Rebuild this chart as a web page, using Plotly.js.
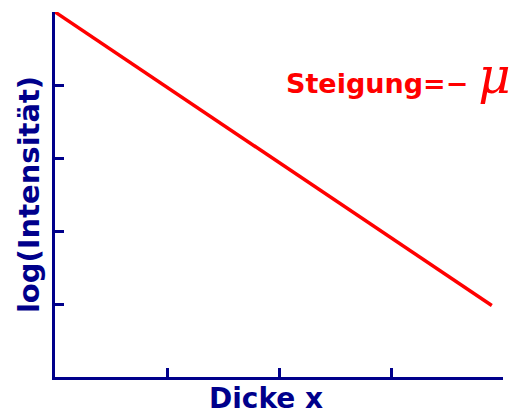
<!DOCTYPE html>
<html>
<head>
<meta charset="utf-8">
<script src="https://cdn.plot.ly/plotly-3.0.1.min.js"></script>
<style>
    html, body { margin: 0; padding: 0; background: #fff; }
    #chart { width: 515px; height: 416px; }
</style>
</head>
<body>
<div id="chart"></div>
<script>
// values
const thickness = [0, 3.9]
const logIntensity = [5, 0.98]
const xTicks = [0, 1, 2, 3, 4]
const yTicks = [0, 1, 2, 3, 4, 5]

const navy = "#00008b"
const red = "#ff0000"
const font = "DejaVu Sans, sans-serif"

let lineTrace = {
    type: "scatter",
    mode: "lines",
    x: thickness,
    y: logIntensity,
    line: {color: red, width: 3.5},
    hoverinfo: "skip"
}

function axis(ticks, range, title, standoff){
    return {
        range: range,
        tickmode: "array",
        tickvals: ticks,
        showticklabels: false,
        ticks: "inside",
        ticklen: 9,
        tickwidth: 3,
        tickcolor: navy,
        showline: true,
        linecolor: navy,
        linewidth: 3,
        showgrid: false,
        zeroline: false,
        fixedrange: true,
        automargin: false,
        title: {text: title, standoff: standoff, font: {family: font, size: 29, color: navy, weight: "bold"}}
    }
}

const layout = {
    width: 515,
    height: 416,
    margin: {l: 55, r: 12, t: 12, b: 39},
    paper_bgcolor: "#fff",
    plot_bgcolor: "#fff",
    showlegend: false,
    xaxis: axis(xTicks, [0, 4], "", 10),
    yaxis: axis(yTicks, [0, 5], "log(Intensität)", 4),
    annotations: [{
        // x axis label, sits a little left of centre in the original
        xref: "paper", yref: "paper",
        x: 0.471, y: -0.1068,
        xanchor: "center", yanchor: "bottom",
        borderpad: 0,
        showarrow: false,
        text: "Dicke x",
        font: {family: font, size: 28, color: navy, weight: "bold"}
    }, {
        xref: "paper", yref: "paper",
        x: 0.5134, y: 0.826,
        xanchor: "left", yanchor: "middle",
        borderpad: 0,
        showarrow: false,
        text: "Steigung=−<span style=\"font-style:italic;font-weight:normal;font-size:50px;font-family:DejaVu Serif\">\u2009μ</span>",
        font: {family: font, size: 27, color: red, weight: "bold"}
    }]
}

Plotly.newPlot("chart", [lineTrace], layout, {displayModeBar: false, staticPlot: true})
</script>
</body>
</html>
